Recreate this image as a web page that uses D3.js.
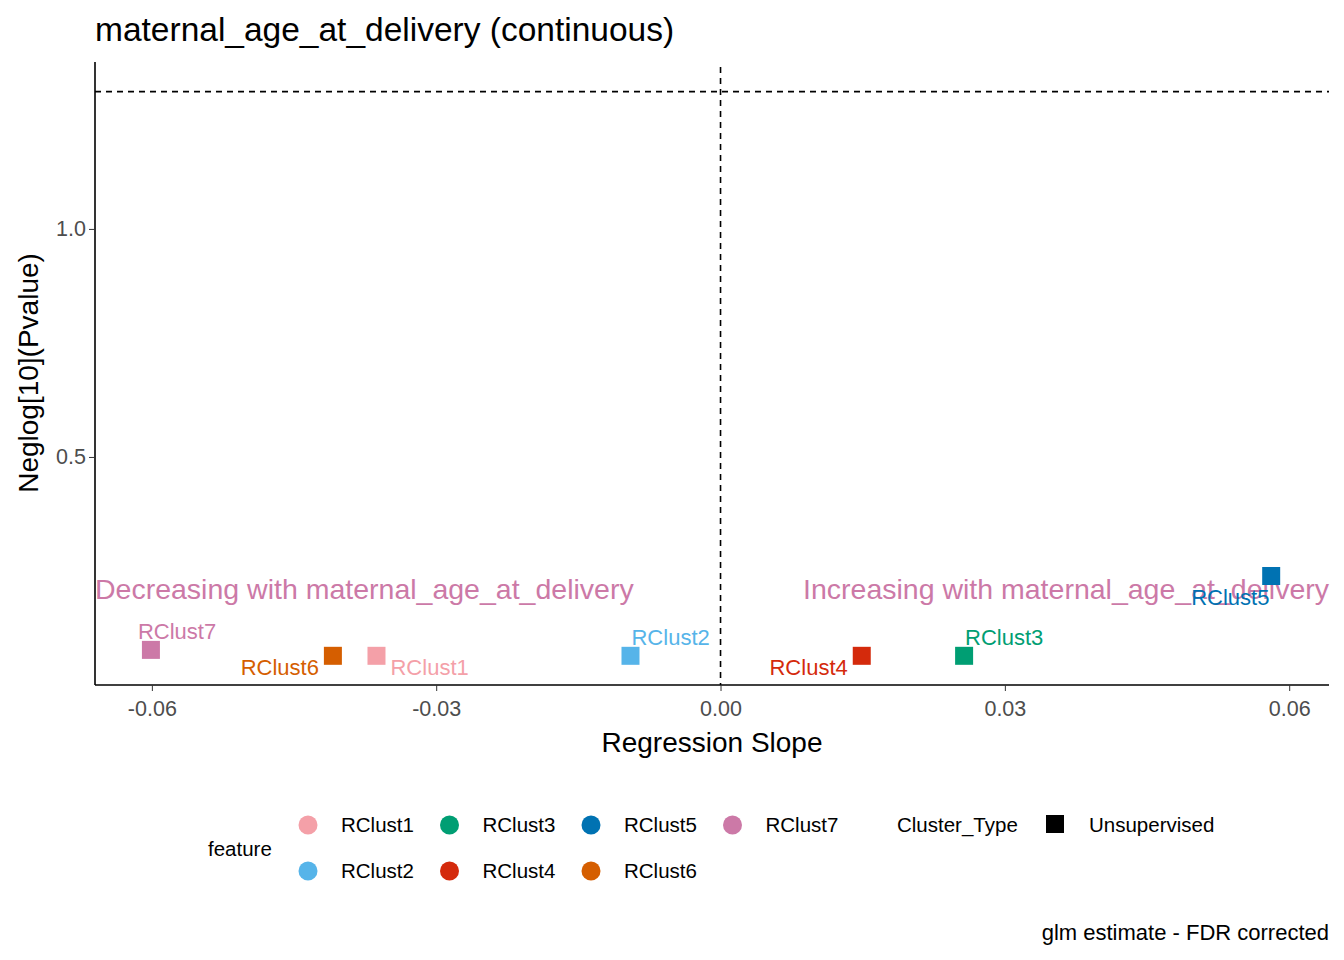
<!DOCTYPE html>
<html><head><meta charset="utf-8">
<script src="https://cdn.jsdelivr.net/npm/d3@7"></script>
<style>body{margin:0;background:#fff;font-family:Arial,"Liberation Sans",sans-serif}</style>
</head><body>
<svg id="chart" width="1344" height="960"></svg>
<script>
// data
var features = ["RClust1","RClust2","RClust3","RClust4","RClust5","RClust6","RClust7"];
var slopes = [-0.0363,-0.0095,0.0257,0.0149,0.0581,-0.0409,-0.0601];
var neglogp = [0.064,0.064,0.064,0.064,0.239,0.064,0.077];
var colors = ["#F4A0A8","#56B4E9","#009E73","#D42A0C","#0072B2","#D55E00","#CC79A7"];
// label nudges in px (dx, dy, anchor)
var labelNudge = [[14,12,"start"],[1,-18,"start"],[1,-18,"start"],[-14,12,"end"],[-80,22,"start"],[-14,12,"end"],[-13,-18,"start"]];
var xTicks = [-0.06,-0.03,0.00,0.03,0.06];
var yTicks = [0.5,1.0];
var pCut = 1.301;

var svg = d3.select("#chart");
var L = 95, R = 1329, T = 62, B = 685;
var x = d3.scaleLinear().domain([-0.066,0.0642]).range([L,R]);
var y = d3.scaleLinear().domain([0,1.366]).range([B,T]);

svg.append("text").attr("x",95).attr("y",41).attr("font-size",33.5).text("maternal_age_at_delivery (continuous)");

// reference lines
svg.append("line").attr("x1",L).attr("x2",R).attr("y1",y(pCut)).attr("y2",y(pCut))
  .attr("stroke","#000").attr("stroke-width",1.6).attr("stroke-dasharray","6,5");
svg.append("line").attr("x1",x(0)).attr("x2",x(0)).attr("y1",T+5).attr("y2",B)
  .attr("stroke","#000").attr("stroke-width",1.6).attr("stroke-dasharray","6,5");

// axes
var xa = svg.append("g").attr("transform","translate(0,"+B+")")
  .call(d3.axisBottom(x).tickValues(xTicks).tickFormat(d3.format(".2f")).tickSizeOuter(0).tickSize(6));
xa.selectAll("text").attr("font-size",21.5).attr("fill","#4d4d4d").attr("dy","1.0em").text(function(d){return d3.format(".2f")(d).replace("−","-");});
var ya = svg.append("g").attr("transform","translate("+L+",0)")
  .call(d3.axisLeft(y).tickValues(yTicks).tickFormat(d3.format(".1f")).tickSizeOuter(0).tickSize(6));
ya.selectAll("text").attr("font-size",21.5).attr("fill","#4d4d4d");
[xa,ya].forEach(function(a){a.select(".domain").attr("stroke","#000").attr("stroke-width",1.6);a.selectAll(".tick line").attr("stroke","#333");});
ya.select(".domain").attr("d","M0,"+T+"V"+B);
xa.select(".domain").attr("d","M"+L+",0H"+R);

svg.append("text").attr("x",712).attr("y",752).attr("text-anchor","middle").attr("font-size",28).text("Regression Slope");
svg.append("text").attr("transform","translate(38,373) rotate(-90)").attr("text-anchor","middle").attr("font-size",28).text("Neglog[10](Pvalue)");

// direction annotations
svg.append("text").attr("x",L).attr("y",599).attr("font-size",28.5).attr("fill","#CC79A7").text("Decreasing with maternal_age_at_delivery");
svg.append("text").attr("x",R).attr("y",599).attr("text-anchor","end").attr("font-size",28.5).attr("fill","#CC79A7").text("Increasing with maternal_age_at_delivery");

// points
features.forEach(function(f,i){
  svg.append("rect").attr("x",x(slopes[i])-9).attr("y",y(neglogp[i])-9).attr("width",18).attr("height",18).attr("fill",colors[i]);
  var n = labelNudge[i];
  svg.append("text").attr("x",x(slopes[i])+n[0]).attr("y",y(neglogp[i])+n[1]+7).attr("text-anchor",n[2])
    .attr("font-size",22).attr("fill",colors[i]).text(f);
});

// legend
svg.append("text").attr("x",208).attr("y",856).attr("font-size",20.5).text("feature");
var order = [0,2,4,6,1,3,5];
order.forEach(function(idx,k){
  var col = k<4 ? k : k-4, row = k<4 ? 0 : 1;
  var cx = 308 + col*141.5, cy = 825 + row*46;
  svg.append("circle").attr("cx",cx).attr("cy",cy).attr("r",9.5).attr("fill",colors[idx]);
  svg.append("text").attr("x",cx+33).attr("y",cy+7).attr("font-size",20.5).text(features[idx]);
});
svg.append("text").attr("x",897).attr("y",832).attr("font-size",20.5).text("Cluster_Type");
svg.append("rect").attr("x",1046).attr("y",815).attr("width",18).attr("height",18).attr("fill","#000");
svg.append("text").attr("x",1089).attr("y",832).attr("font-size",20.5).text("Unsupervised");

svg.append("text").attr("x",1329).attr("y",940).attr("text-anchor","end").attr("font-size",22).text("glm estimate - FDR corrected");
</script>
</body></html>
